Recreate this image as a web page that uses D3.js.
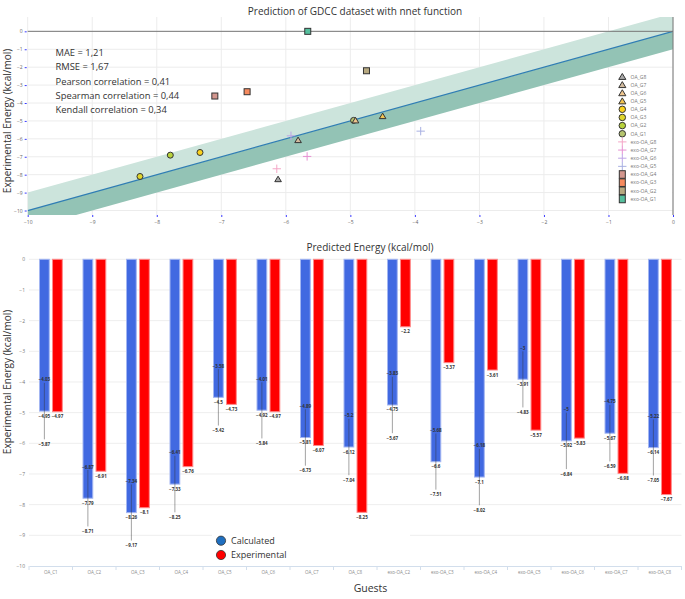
<!DOCTYPE html>
<html>
<head>
<meta charset="utf-8">
<script src="https://cdn.jsdelivr.net/npm/d3@7"></script>
<style>
  html, body { margin: 0; padding: 0; background: #fff; }
  svg { display: block; font-family: "Open Sans", "Noto Sans", sans-serif; }
</style>
</head>
<body>
<svg id="chart" width="685" height="599"></svg>
<script>
// ---------- Top chart data ----------
const scatterGuests = ["OA_G1","OA_G2","OA_G3","OA_G4","OA_G5","OA_G6","OA_G7","OA_G8",
  "exo-OA_G1","exo-OA_G2","exo-OA_G3","exo-OA_G4","exo-OA_G5","exo-OA_G6","exo-OA_G7","exo-OA_G8"];
const scatterPredicted = [-4.95,-7.79,-8.26,-7.33,-4.5,-4.92,-5.81,-6.12,
  -5.66,-4.75,-6.6,-7.1,-3.91,-5.92,-5.67,-6.14];
const scatterExperimental = [-4.97,-6.91,-8.1,-6.76,-4.73,-4.97,-6.07,-8.25,
  0,-2.2,-3.37,-3.61,-5.57,-5.83,-6.98,-7.67];
const scatterSymbols = ["circle","circle","circle","circle","triangle","triangle","triangle","triangle",
  "square","square","square","square","cross","cross","cross","cross"];
const scatterColors = ["#b6c46e","#b8d23c","#e0d62c","#fbd21e","#f2c452","#efc68e","#d2bb9e","#a9a9a9",
  "#55bf9d","#b7a980","#f68a5e","#d3968e","#a8b0e2","#bea4e6","#e690d2","#f4a6c6"];
const legendOrder = ["OA_G8","OA_G7","OA_G6","OA_G5","OA_G4","OA_G3","OA_G2","OA_G1",
  "exo-OA_G8","exo-OA_G7","exo-OA_G6","exo-OA_G5","exo-OA_G4","exo-OA_G3","exo-OA_G2","exo-OA_G1"];
const statLabels = ["MAE = 1,21","RMSE = 1,67","Pearson correlation = 0,41",
  "Spearman correlation = 0,44","Kendall correlation = 0,34"];
const topXTicks = [-10,-9,-8,-7,-6,-5,-4,-3,-2,-1,0];
const topYTicks = [0,-1,-2,-3,-4,-5,-6,-7,-8,-9,-10];

// ---------- Bottom chart data ----------
const guests = ["OA_C1","OA_C2","OA_C3","OA_C4","OA_C5","OA_C6","OA_C7","OA_C8",
  "exo-OA_C2","exo-OA_C3","exo-OA_C4","exo-OA_C5","exo-OA_C6","exo-OA_C7","exo-OA_C8"];
const calculated = [-4.95,-7.79,-8.26,-7.33,-4.5,-4.92,-5.81,-6.12,-4.75,-6.6,-7.1,-3.91,-5.92,-5.67,-6.14];
const calcUpper = [-4.03,-6.87,-7.34,-6.41,-3.58,-4.01,-4.89,-5.2,-3.83,-5.68,-6.18,-3,-5,-4.75,-5.22];
const calcLower = [-5.87,-8.71,-9.17,-8.25,-5.42,-5.84,-6.73,-7.04,-5.67,-7.51,-8.02,-4.83,-6.84,-6.59,-7.05];
const experimental = [-4.97,-6.91,-8.1,-6.76,-4.73,-4.97,-6.07,-8.25,-2.2,-3.37,-3.61,-5.57,-5.83,-6.98,-7.67];
const seriesNames = ["Calculated","Experimental"];
const barYTicks = [0,-1,-2,-3,-4,-5,-6,-7,-8,-9,-10];

const svg = d3.select("#chart");
const fmt = v => String(v).replace("-", "\u2212");

// ================= TOP CHART =================
const tx = d3.scaleLinear([-10, 0], [27.7, 673]);
const ty = d3.scaleLinear([-10.25, 0.8], [215, 17]);
const topG = svg.append("g");

topG.append("defs").append("clipPath").attr("id","clipTop")
  .append("rect").attr("x", tx(-10)).attr("y", ty(0.8))
  .attr("width", tx(0)-tx(-10)).attr("height", ty(-10.25)-ty(0.8));

// grid
topG.append("g").selectAll("line").data(topXTicks).join("line")
  .attr("x1", d => tx(d)).attr("x2", d => tx(d)).attr("y1", ty(0.8)).attr("y2", ty(-10.25))
  .attr("stroke", "#ececec").attr("stroke-width", 1);
topG.append("g").selectAll("line").data(topYTicks).join("line")
  .attr("x1", tx(-10)).attr("x2", tx(0)).attr("y1", d => ty(d)).attr("y2", d => ty(d))
  .attr("stroke", "#ececec").attr("stroke-width", 1);

// band
const bandG = topG.append("g").attr("clip-path", "url(#clipTop)");
const bandX = [-10, 0];
const area = d3.area().x(d => tx(d[0])).y0(d => ty(d[1])).y1(d => ty(d[2]));
bandG.append("path").datum(bandX.map(x => [x, x, x + 1]))
  .attr("d", area).attr("fill", "#cce4dc");
bandG.append("path").datum(bandX.map(x => [x, x - 1, x]))
  .attr("d", area).attr("fill", "#93c3b5");
bandG.append("path").datum(bandX.map(x => [x, x]))
  .attr("d", d3.line().x(d => tx(d[0])).y(d => ty(d[1])))
  .attr("fill", "none").attr("stroke", "#2f7db4").attr("stroke-width", 1.3);

// zero lines
topG.append("line").attr("x1", tx(-10)).attr("x2", tx(0)).attr("y1", ty(0)).attr("y2", ty(0))
  .attr("stroke", "#777").attr("stroke-width", 1);
topG.append("line").attr("x1", tx(0)).attr("x2", tx(0)).attr("y1", ty(0.8)).attr("y2", ty(-10.25))
  .attr("stroke", "#777").attr("stroke-width", 1);

// axes ticks
const yAxisTop = d3.axisLeft(ty).tickValues(topYTicks).tickSize(2).tickPadding(2).tickFormat(fmt);
const gyt = topG.append("g").attr("transform", `translate(${tx(-10) - 1},0)`).call(yAxisTop);
gyt.select(".domain").remove();
gyt.selectAll(".tick line").attr("stroke", "#3a3aff");
gyt.selectAll(".tick text").attr("font-size", 5).attr("fill", "#666").attr("font-family", "Open Sans");
const xAxisTop = d3.axisBottom(tx).tickValues(topXTicks).tickSize(2).tickPadding(3).tickFormat(fmt);
const gxt = topG.append("g").attr("transform", `translate(0,${ty(-10.25)})`).call(xAxisTop);
gxt.select(".domain").remove();
gxt.selectAll(".tick line").attr("stroke", "#3a3aff");
gxt.selectAll(".tick text").attr("font-size", 5).attr("fill", "#666").attr("font-family", "Open Sans");

// markers
function drawMarker(g, sym, color, size) {
  const s = size;
  if (sym === "circle") {
    g.append("circle").attr("r", s * 0.5).attr("fill", color).attr("stroke", "#333").attr("stroke-width", 1);
  } else if (sym === "triangle") {
    g.append("path").attr("d", `M0,${-s*0.5}L${s*0.55},${s*0.42}L${-s*0.55},${s*0.42}Z`)
      .attr("fill", color).attr("stroke", "#333").attr("stroke-width", 1);
  } else if (sym === "square") {
    g.append("rect").attr("x", -s*0.5).attr("y", -s*0.5).attr("width", s).attr("height", s)
      .attr("fill", color).attr("stroke", "#333").attr("stroke-width", 1);
  } else if (sym === "cross") {
    g.append("path").attr("d", `M${-s*0.6},0H${s*0.6}M0,${-s*0.6}V${s*0.6}`)
      .attr("stroke", color).attr("stroke-width", 1).attr("fill", "none");
  }
}
const pts = scatterGuests.map((name, i) => ({
  name, px: scatterPredicted[i], ey: scatterExperimental[i], sym: scatterSymbols[i], col: scatterColors[i]
}));
const ptG = topG.append("g");
pts.forEach(p => {
  const g = ptG.append("g").attr("transform", `translate(${tx(p.px)},${ty(p.ey)})`);
  drawMarker(g, p.sym, p.col, p.sym === "cross" ? 7 : 6);
});

// legend
topG.append("rect").attr("x", 609).attr("y", 70).attr("width", 63).attr("height", 136).attr("fill", "#fff");
const lg = topG.append("g");
legendOrder.forEach((name, i) => {
  const p = pts.find(q => q.name === name);
  const y = 76.7 + i * 8.15;
  const g = lg.append("g").attr("transform", `translate(622.3,${y})`);
  if (p.sym === "square") {
    g.append("rect").attr("x", -3).attr("y", -3.8).attr("width", 6).attr("height", 7.6)
      .attr("fill", p.col).attr("stroke", "#333").attr("stroke-width", 1);
  } else {
    drawMarker(g, p.sym, p.col, p.sym === "cross" ? 7 : 6.5);
  }
  lg.append("text").attr("x", 630.5).attr("y", y + 1.8).text(name)
    .attr("font-size", 5).attr("fill", "#777");
});

// stats text
topG.append("g").selectAll("text").data(statLabels).join("text")
  .attr("x", 55.5).attr("y", (d, i) => 55.8 + i * 14.4).text(d => d)
  .attr("font-size", 9.4).attr("fill", "#333");

// titles
topG.append("text").attr("x", 355).attr("y", 14.5).attr("text-anchor", "middle")
  .attr("font-size", 10).attr("fill", "#333").text("Prediction of GDCC dataset with nnet function");
topG.append("text").attr("x", 370).attr("y", 250.5).attr("text-anchor", "middle")
  .attr("font-size", 10).attr("fill", "#333").text("Predicted Energy (kcal/mol)");
topG.append("text").attr("transform", `translate(11,121) rotate(-90)`).attr("text-anchor", "middle")
  .attr("font-size", 10).attr("fill", "#333").text("Experimental Energy (kcal/mol)");

// ================= BOTTOM CHART =================
const bx = d3.scaleBand(guests, [29, 681.5]);
const bsub = d3.scaleBand(seriesNames, [10.5, 33.3]).paddingInner(0.25);
const by = d3.scaleLinear([-10, 0], [566, 259.3]);
const bot = svg.append("g");

// grid
bot.append("g").selectAll("line").data(barYTicks.filter(d => d !== -10)).join("line")
  .attr("x1", 29).attr("x2", 681.5).attr("y1", d => by(d)).attr("y2", d => by(d))
  .attr("stroke", "#eeeeee").attr("stroke-width", 1);

// y tick labels
const yAxisBot = d3.axisLeft(by).tickValues(barYTicks).tickSize(0).tickPadding(4).tickFormat(fmt);
const gyb = bot.append("g").attr("transform", `translate(29,0)`).call(yAxisBot);
gyb.select(".domain").remove();
gyb.selectAll(".tick text").attr("font-size", 5).attr("fill", "#777").attr("font-family", "Open Sans");

// x axis
const xAxisBot = d3.axisBottom(bx).tickSize(0).tickPadding(5);
const gxb = bot.append("g").attr("transform", `translate(0,${by(-10)})`).call(xAxisBot);
gxb.select(".domain").attr("stroke", "#d2deec");
gxb.selectAll(".tick text").attr("font-size", 4.5).attr("fill", "#888").attr("font-family", "Open Sans");
bot.append("g").selectAll("line").data(guests).join("line")
  .attr("x1", d => bx(d)).attr("x2", d => bx(d)).attr("y1", by(-10)).attr("y2", by(-10) + 4)
  .attr("stroke", "#d2deec");
bot.append("line").attr("x1", 681.5).attr("x2", 681.5).attr("y1", by(-10)).attr("y2", by(-10) + 4)
  .attr("stroke", "#d2deec");

// legend background (covers grid)
bot.append("rect").attr("x", 212).attr("y", 530).attr("width", 198).attr("height", 33).attr("fill", "#fff");

// bars
const rows = guests.map((g, i) => ({ g, c: calculated[i], e: experimental[i], u: calcUpper[i], l: calcLower[i] }));
const barG = bot.append("g");
barG.selectAll("rect.calc").data(rows).join("rect").attr("class", "calc")
  .attr("x", d => bx(d.g) + bsub("Calculated")).attr("width", bsub.bandwidth())
  .attr("y", by(0)).attr("height", d => by(d.c) - by(0))
  .attr("fill", "#4169e1").attr("stroke", "#a3b6f2").attr("stroke-width", 1);
barG.selectAll("rect.exp").data(rows).join("rect").attr("class", "exp")
  .attr("x", d => bx(d.g) + bsub("Experimental")).attr("width", bsub.bandwidth())
  .attr("y", by(0)).attr("height", d => by(d.e) - by(0))
  .attr("fill", "#ff0000").attr("stroke", "#ff8a8a").attr("stroke-width", 1);

// error ranges
const cx = d => bx(d.g) + bsub("Calculated") + bsub.bandwidth() / 2;
const ex = d => bx(d.g) + bsub("Experimental") + bsub.bandwidth() / 2;
barG.selectAll("line.err").data(rows).join("line").attr("class", "err")
  .attr("x1", cx).attr("x2", cx).attr("y1", d => by(d.u)).attr("y2", d => by(d.l))
  .attr("stroke", "#333").attr("stroke-opacity", 0.45).attr("stroke-width", 1);

// labels
const lab = bot.append("g").attr("font-size", 4.5).attr("font-weight", "bold").attr("fill", "#333")
  .attr("text-anchor", "middle");
lab.selectAll("text.u").data(rows).join("text").attr("class", "u")
  .attr("x", cx).attr("y", d => by(d.u) - 1.5).text(d => fmt(d.u));
lab.selectAll("text.c").data(rows).join("text").attr("class", "c")
  .attr("x", cx).attr("y", d => by(d.c) + 6.5).text(d => fmt(d.c));
lab.selectAll("text.l").data(rows).join("text").attr("class", "l")
  .attr("x", cx).attr("y", d => by(d.l) + 6.5).text(d => fmt(d.l));
lab.selectAll("text.e").data(rows).join("text").attr("class", "e")
  .attr("x", ex).attr("y", d => by(d.e) + 6.5).text(d => fmt(d.e));

// legend
const legColors = ["#1f6fc0", "#ff0000"];
seriesNames.forEach((n, i) => {
  const y = 540.7 + i * 14.3;
  bot.append("circle").attr("cx", 221).attr("cy", y).attr("r", 4.6)
    .attr("fill", legColors[i]).attr("stroke", "#333").attr("stroke-width", 0.8);
  bot.append("text").attr("x", 231).attr("y", y + 3.3).text(n)
    .attr("font-size", 9).attr("fill", "#333");
});

// titles
bot.append("text").attr("x", 370.5).attr("y", 591.5).attr("text-anchor", "middle")
  .attr("font-size", 10.5).attr("fill", "#333").text("Guests");
bot.append("text").attr("transform", `translate(11,382) rotate(-90)`).attr("text-anchor", "middle")
  .attr("font-size", 10).attr("fill", "#333").text("Experimental Energy (kcal/mol)");
</script>
</body>
</html>
